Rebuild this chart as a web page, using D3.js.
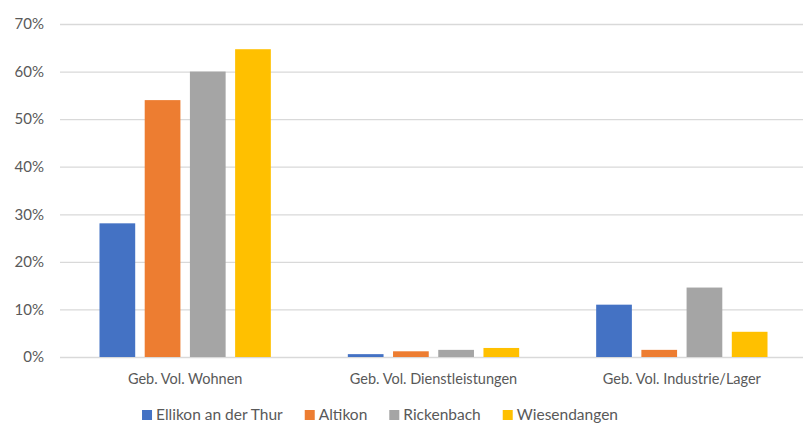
<!DOCTYPE html>
<html>
<head>
<meta charset="utf-8">
<script src="https://cdn.jsdelivr.net/npm/d3@7/dist/d3.min.js"></script>
<style>
  html, body { margin: 0; padding: 0; background: #fff; }
  svg { display: block; }
  text { font-family: Lato, "Open Sans", sans-serif; fill: #595959; }
</style>
</head>
<body>
<svg id="chart" width="803" height="428"></svg>
<script>
// Building volume shares per municipality and use category
const categories = ["Geb. Vol. Wohnen", "Geb. Vol. Dienstleistungen", "Geb. Vol. Industrie/Lager"];
const seriesNames = ["Ellikon an der Thur", "Altikon", "Rickenbach", "Wiesendangen"];
const ellikon = [28.1, 0.6, 11.0];
const altikon = [54.0, 1.2, 1.5];
const rickenbach = [60.0, 1.5, 14.6];
const wiesendangen = [64.7, 1.9, 5.3];
const yTicks = [0, 10, 20, 30, 40, 50, 60, 70];
const colors = ["#4472C4", "#ED7D31", "#A5A5A5", "#FFC000"];

const seriesValues = [ellikon, altikon, rickenbach, wiesendangen];
const table = categories.map((c, i) => ({
  category: c,
  values: seriesNames.map((s, j) => ({ series: s, value: seriesValues[j][i] }))
}));

const svg = d3.select("#chart");
const plot = { left: 61, right: 806, top: 24, bottom: 357 };

const x0 = d3.scaleBand()
  .domain(categories)
  .range([plot.left, plot.right])
  .paddingInner(0.31)
  .paddingOuter(0.155);

const x1 = d3.scaleBand()
  .domain(seriesNames)
  .range([0, x0.bandwidth()])
  .paddingInner(0.21)
  .paddingOuter(0);

const y = d3.scaleLinear().domain([0, 70]).range([plot.bottom, plot.top]);

// Gridlines and percentage labels
const yAxis = d3.axisLeft(y)
  .tickValues(yTicks)
  .tickSize(-(803 - plot.left + 1))
  .tickPadding(16)
  .tickFormat(d => d + "%");

const gy = svg.append("g")
  .attr("transform", `translate(${plot.left - 1},0)`)
  .call(yAxis);
gy.select(".domain").remove();
gy.selectAll(".tick line").attr("stroke", "#D9D9D9").attr("stroke-width", 1.3);
gy.selectAll(".tick text")
  .attr("font-size", 15)
  .attr("fill", "#595959")
  .style("font-family", "Lato, 'Open Sans', sans-serif");

// Bars
const groups = svg.append("g").selectAll("g")
  .data(table)
  .join("g")
  .attr("transform", d => `translate(${x0(d.category)},0)`);

groups.selectAll("rect")
  .data(d => d.values)
  .join("rect")
  .attr("x", d => x1(d.series))
  .attr("width", x1.bandwidth())
  .attr("y", d => y(d.value))
  .attr("height", d => y(0) - y(d.value))
  .attr("fill", (d, i) => colors[i]);

// Category labels
const xAxis = d3.axisBottom(x0).tickSize(0).tickPadding(17);
const gx = svg.append("g")
  .attr("transform", `translate(0,${plot.bottom})`)
  .call(xAxis);
gx.select(".domain").remove();
gx.selectAll(".tick text")
  .attr("font-size", 14.5)
  .attr("fill", "#595959")
  .style("font-family", "Lato, 'Open Sans', sans-serif");

// Legend, centred below the plot
const legend = svg.append("g").attr("transform", "translate(0,415)");
const items = legend.selectAll("g")
  .data(seriesNames)
  .join("g");
items.append("rect")
  .attr("width", 10).attr("height", 10)
  .attr("y", -5)
  .attr("fill", (d, i) => colors[i]);
items.append("text")
  .attr("x", 14)
  .attr("dy", "0.35em")
  .attr("font-size", 15.5)
  .text(d => d);

let offset = 0;
const positions = [];
items.each(function () {
  const w = d3.select(this).select("text").node().getComputedTextLength();
  positions.push(offset);
  offset += 14 + w + 22;
});
const total = offset - 22;
const start = 380 - total / 2;
items.attr("transform", (d, i) => `translate(${start + positions[i]},0)`);
</script>
</body>
</html>
